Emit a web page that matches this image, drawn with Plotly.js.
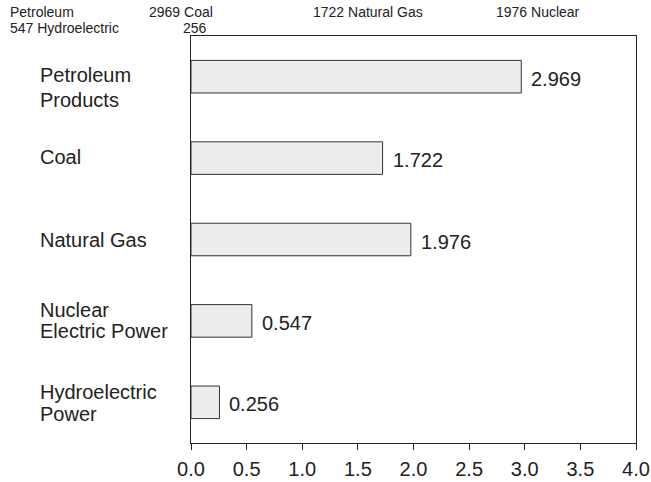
<!DOCTYPE html>
<html><head><meta charset="utf-8">
<script src="https://cdn.plot.ly/plotly-3.0.1.min.js"></script>
<style>body{margin:0;background:#fff}#chart{width:651px;height:482px}</style>
</head><body><div id="chart"></div>
<script>
const categories = ["Petroleum Products", "Coal", "Natural Gas", "Nuclear Electric Power", "Hydroelectric Power"];
const categoryLines = [["Petroleum", "Products"], ["Coal"], ["Natural Gas"], ["Nuclear", "Electric Power"], ["Hydroelectric", "Power"]];
const values = [2.969, 1.722, 1.976, 0.547, 0.256];
const valueLabels = ["2.969", "1.722", "1.976", "0.547", "0.256"];
const xTicks = [0, 0.5, 1, 1.5, 2, 2.5, 3, 3.5, 4];
const xTickLabels = ["0.0", "0.5", "1.0", "1.5", "2.0", "2.5", "3.0", "3.5", "4.0"];
const headerTexts = ["Petroleum", "547 Hydroelectric", "2969 Coal", "256", "1722 Natural Gas", "1976 Nuclear"];
const headerRow = [0, 1, 0, 1, 0, 0];

// pixel layout helpers (style only)
const headerX = [8, 8, 147, 181, 311, 494];
const lineOffsets = [[-2, 23], [-1.5], [0], [-10.5, 10.5], [-10, 12]];

const font = "Liberation Sans, Arial, sans-serif";
const ink = "#222";

const annotations = [];
categories.forEach((c, i) => {
  categoryLines[i].forEach((ln, j) => {
    annotations.push({
      xref: "paper", yref: "y", x: (38 - 191) / 445, y: c, xanchor: "left", yanchor: "middle",
      text: ln, showarrow: false, align: "left", yshift: -lineOffsets[i][j],
      font: {family: font, size: 20, color: ink}
    });
  });
  annotations.push({
    xref: "x", yref: "y", x: values[i], y: c, xanchor: "left", yanchor: "middle",
    text: valueLabels[i], showarrow: false, xshift: 8, yshift: -2,
    font: {family: font, size: 20, color: ink}
  });
});
headerTexts.forEach((t, i) => {
  annotations.push({
    xref: "paper", yref: "paper",
    x: (headerX[i] - 191) / 445, y: 1 + (36 - (headerRow[i] ? 28 : 12)) / 407,
    xanchor: "left", yanchor: "middle", text: t, showarrow: false,
    font: {family: font, size: 14, color: ink}
  });
});

Plotly.newPlot("chart", [{
  type: "bar", orientation: "h",
  y: categories, x: values, width: 0.4,
  marker: {color: "#ededed", line: {color: "#333", width: 1}},
  hoverinfo: "none"
}], {
  width: 651, height: 482,
  margin: {l: 191, r: 15, t: 36, b: 39},
  paper_bgcolor: "#fff", plot_bgcolor: "#fff",
  showlegend: false,
  xaxis: {
    range: [0, 4], tickvals: xTicks, ticktext: xTickLabels,
    ticks: "outside", ticklen: 6, tickcolor: ink, ticklabelstandoff: 2,
    showline: true, linecolor: ink, linewidth: 1, mirror: true,
    showgrid: false, zeroline: false,
    tickfont: {family: font, size: 20, color: ink}
  },
  yaxis: {
    type: "category", autorange: false, range: [4.5, -0.5],
    showticklabels: false, ticks: "",
    showline: true, linecolor: ink, linewidth: 1, mirror: true,
    showgrid: false, zeroline: false
  },
  annotations: annotations
}, {displayModeBar: false, staticPlot: true});
</script></body></html>
